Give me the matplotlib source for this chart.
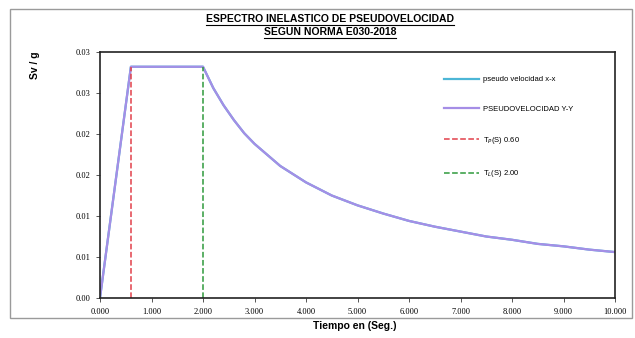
import math
import matplotlib
matplotlib.use("Agg")
import matplotlib.pyplot as plt
from matplotlib.lines import Line2D
from matplotlib.patches import Rectangle
from matplotlib.ticker import FuncFormatter, MultipleLocator

plt.rcParams['font.family'] = ['Liberation Sans Narrow', 'Liberation Sans', 'DejaVu Sans']

# periodo (s) y pseudovelocidad Sv/g
periodo = [0.0, 0.6, 1.0, 1.5, 2.0, 2.2, 2.4, 2.6, 2.8, 3.0, 3.5, 4.0, 4.5, 5.0,
           5.5, 6.0, 6.5, 7.0, 7.5, 8.0, 8.5, 9.0, 9.5, 10.0]
sv_x = [0.0, 0.0282, 0.0282, 0.0282, 0.0282, 0.0256, 0.0235, 0.0217, 0.0201, 0.0188,
        0.0161, 0.0141, 0.0125, 0.0113, 0.0103, 0.0094, 0.0087, 0.0081, 0.0075,
        0.0071, 0.0066, 0.0063, 0.0059, 0.0056]
sv_y = list(sv_x)
tp = 0.60
tl = 2.00
sv_max = 0.0282

fig = plt.figure(figsize=(6.35, 3.38), dpi=100)
fig.patches.append(Rectangle((10 / 635, 1 - 318 / 338), 622 / 635, 309 / 338,
                             transform=fig.transFigure, fill=False,
                             edgecolor='#9a9a9a', linewidth=1.0))

ax = fig.add_axes([100 / 635, 1 - 298 / 338, 515 / 635, 246 / 338])
ax.plot(periodo, sv_x, color='#4cb6d6', linewidth=1.6, label='pseudo velocidad x-x')
ax.plot(periodo, sv_y, color='#a58ee6', linewidth=1.6, label='PSEUDOVELOCIDAD Y-Y')
ax.plot([tp, tp], [0, sv_max], color='#e2404a', linestyle='--', linewidth=1.1,
        label='T$_P$(S) 0.60')
ax.plot([tl, tl], [0, sv_max], color='#2f9a3c', linestyle='--', linewidth=1.1,
        label='T$_L$(S) 2.00')

ax.set_xlim(0, 10)
ax.set_ylim(0, 0.03)
ax.xaxis.set_major_locator(MultipleLocator(1))
ax.yaxis.set_major_locator(MultipleLocator(0.005))
ax.xaxis.set_major_formatter(FuncFormatter(lambda v, p: f"{v:.3f}"))
ax.yaxis.set_major_formatter(
    FuncFormatter(lambda v, p: f"{math.floor(v * 100 + 0.5 + 1e-9) / 100:.2f}"))
for lab in ax.get_xticklabels() + ax.get_yticklabels():
    lab.set_fontfamily(['Liberation Serif', 'DejaVu Serif'])
    lab.set_fontsize(6)
ax.tick_params(length=3, width=0.7, color='#555555', pad=4)
for s in ax.spines.values():
    s.set_linewidth(1.2)
    s.set_color('#222222')

ax.legend(loc='upper left', bbox_to_anchor=(0.655, 0.93), frameon=False,
          fontsize=5.5, labelspacing=2.9, handlelength=4.6, handletextpad=0.5)

fig.text(35 / 635, 1 - 65 / 338, 'Sv / g', rotation=90, ha='center', va='center',
         fontsize=7.5, fontweight='bold')
fig.text(355 / 635, 1 - 326 / 338, 'Tiempo en (Seg.)', ha='center', va='center',
         fontsize=7.5, fontweight='bold')

titles = [fig.text(330 / 635, 1 - 19 / 338, 'ESPECTRO INELASTICO DE PSEUDOVELOCIDAD',
                   ha='center', va='center', fontsize=7.5, fontweight='bold'),
          fig.text(330 / 635, 1 - 32 / 338, 'SEGUN NORMA E030-2018',
                   ha='center', va='center', fontsize=7.5, fontweight='bold')]
fig.canvas.draw()
r = fig.canvas.get_renderer()
inv = fig.transFigure.inverted()
for t in titles:
    bb = t.get_window_extent(r).transformed(inv)
    fig.lines.append(Line2D([bb.x0, bb.x1], [bb.y0 - 0.002, bb.y0 - 0.002],
                            transform=fig.transFigure, color='black', linewidth=0.8))

fig.savefig('out.png', dpi=100)
